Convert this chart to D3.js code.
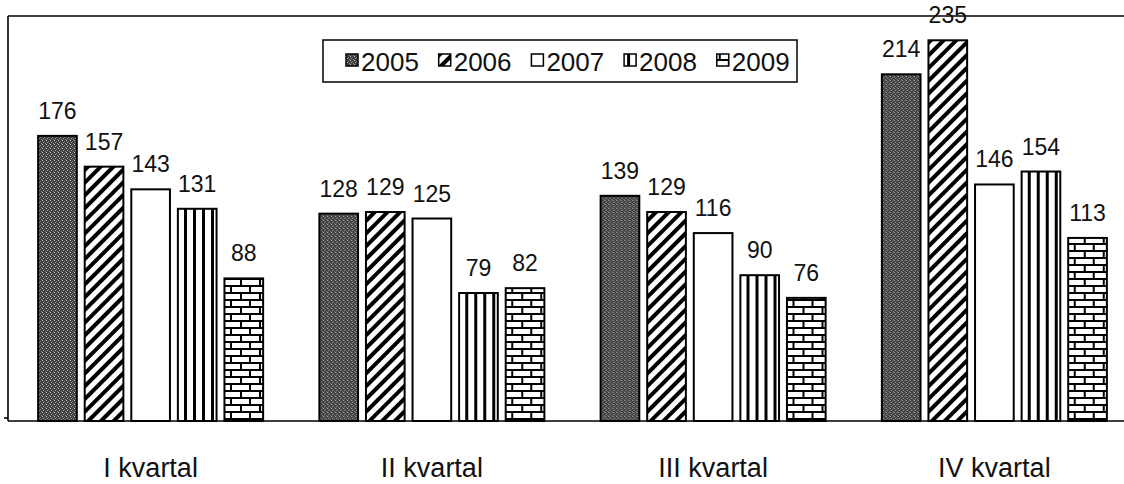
<!DOCTYPE html>
<html lang="en">
  <head>
    <meta charset="utf-8">
    <title>Kvartal chart</title>
    <script src="https://d3js.org/d3.v7.min.js"></script>
    <style>
      body { margin: 0; background: #fff; }
      text { font-family: "Liberation Sans", Arial, sans-serif; fill: #111; }
    </style>
  </head>
<body>
  <svg id="chart" width="1124" height="484"></svg>

  <script type="text/javascript">
    var quarters = ["I kvartal", "II kvartal", "III kvartal", "IV kvartal"],
        years = ["2005", "2006", "2007", "2008", "2009"];

    var v2005 = [176, 128, 139, 214],
        v2006 = [157, 129, 129, 235],
        v2007 = [143, 125, 116, 146],
        v2008 = [131, 79, 90, 154],
        v2009 = [88, 82, 76, 113];

    var yTicks = [0, 250];

    function chart() {
        var series = [v2005, v2006, v2007, v2008, v2009];
        var rows = [];
        years.forEach(function(yr, i) {
            quarters.forEach(function(q, j) {
                rows.push({year: yr, quarter: q, value: series[i][j]});
            });
        });

        var svg = d3.select("#chart");
        var left = 8, top = 16, baseY = 421, right = 1124;

        var y = d3.scaleLinear().domain(d3.extent(yTicks)).range([baseY, top]);
        var x0 = d3.scaleBand().domain(quarters).range([10, 1135]);
        var pad = (x0.bandwidth() - 225) / 2;
        var x1 = d3.scaleBand().domain(years)
            .range([pad, x0.bandwidth() - pad])
            .paddingInner(0.17);

        // fill patterns, one per year
        var defs = svg.append("defs");

        var p0 = defs.append("pattern").attr("id", "p2005")
            .attr("patternUnits", "userSpaceOnUse").attr("width", 4).attr("height", 4);
        p0.append("rect").attr("width", 4).attr("height", 4).attr("fill", "#3e3e3e");
        [[0, 0, "#c4c4c4"], [2, 1, "#7a7a7a"], [1, 2, "#a4a4a4"], [3, 3, "#8a8a8a"]].forEach(function(d) {
            p0.append("rect").attr("x", d[0]).attr("y", d[1])
                .attr("width", 1).attr("height", 1).attr("fill", d[2]);
        });

        var p1 = defs.append("pattern").attr("id", "p2006")
            .attr("patternUnits", "userSpaceOnUse").attr("width", 9).attr("height", 9)
            .attr("patternTransform", "rotate(45)");
        p1.append("rect").attr("width", 9).attr("height", 9).attr("fill", "#fff");
        p1.append("rect").attr("width", 4).attr("height", 9).attr("fill", "#000");

        defs.append("pattern").attr("id", "p2007")
            .attr("patternUnits", "userSpaceOnUse").attr("width", 4).attr("height", 4)
            .append("rect").attr("width", 4).attr("height", 4).attr("fill", "#fff");

        var p3 = defs.append("pattern").attr("id", "p2008")
            .attr("patternUnits", "userSpaceOnUse").attr("width", 9).attr("height", 4);
        p3.append("rect").attr("width", 9).attr("height", 4).attr("fill", "#fff");
        p3.append("rect").attr("x", 3).attr("width", 3).attr("height", 4).attr("fill", "#000");

        var p4 = defs.append("pattern").attr("id", "p2009")
            .attr("patternUnits", "userSpaceOnUse").attr("width", 19).attr("height", 14);
        p4.append("rect").attr("width", 19).attr("height", 14).attr("fill", "#fff");
        p4.append("rect").attr("y", 5).attr("width", 19).attr("height", 2).attr("fill", "#000");
        p4.append("rect").attr("y", 12).attr("width", 19).attr("height", 2).attr("fill", "#000");
        p4.append("rect").attr("x", 2).attr("y", 0).attr("width", 2).attr("height", 7).attr("fill", "#000");
        p4.append("rect").attr("x", 11).attr("y", 7).attr("width", 2).attr("height", 7).attr("fill", "#000");

        // frame
        var frame = svg.append("g").attr("stroke", "#000").attr("stroke-width", 1.6);
        frame.append("line").attr("x1", left).attr("y1", top).attr("x2", right).attr("y2", top);
        frame.append("line").attr("x1", left).attr("y1", top).attr("x2", left).attr("y2", baseY);
        frame.append("line").attr("x1", left - 4).attr("y1", baseY - 3).attr("x2", left).attr("y2", baseY - 3);

        // bars
        var groups = svg.append("g").selectAll("g")
            .data(quarters).join("g")
            .attr("transform", function(d) { return "translate(" + x0(d) + ",0)"; });

        groups.selectAll("rect")
            .data(function(q) { return rows.filter(function(r) { return r.quarter === q; }); })
            .join("rect")
            .attr("x", function(d) { return x1(d.year); })
            .attr("y", function(d) { return y(d.value); })
            .attr("width", x1.bandwidth())
            .attr("height", function(d) { return baseY - y(d.value); })
            .attr("fill", function(d) { return "url(#p" + d.year + ")"; })
            .attr("stroke", "#000")
            .attr("stroke-width", 2);

        groups.selectAll("text.val")
            .data(function(q) { return rows.filter(function(r) { return r.quarter === q; }); })
            .join("text")
            .attr("class", "val")
            .attr("x", function(d) { return x1(d.year) + x1.bandwidth() / 2; })
            .attr("y", function(d) { return y(d.value) - 17; })
            .attr("text-anchor", "middle")
            .attr("font-size", 23)
            .text(function(d) { return d.value; });

        // x axis line and labels
        svg.append("line").attr("x1", left).attr("y1", baseY).attr("x2", right).attr("y2", baseY)
            .attr("stroke", "#000").attr("stroke-width", 1.6);

        svg.append("g").selectAll("text")
            .data(quarters).join("text")
            .attr("x", function(d) { return x0(d) + x0.bandwidth() / 2; })
            .attr("y", 477)
            .attr("text-anchor", "middle")
            .attr("font-size", 27)
            .text(function(d) { return d; });

        // legend
        var lg = svg.append("g").attr("transform", "translate(323,40)");
        lg.append("rect").attr("width", 474).attr("height", 42)
            .attr("fill", "#fff").attr("stroke", "#000").attr("stroke-width", 1.5);
        var item = lg.selectAll("g").data(years).join("g")
            .attr("transform", function(d, i) { return "translate(" + (23 + i * 92.7) + ",0)"; });
        item.append("rect").attr("y", 14).attr("width", 12).attr("height", 12)
            .attr("fill", function(d) { return "url(#p" + d + ")"; })
            .attr("stroke", "#000").attr("stroke-width", 1.5);
        item.append("text").attr("x", 15).attr("y", 31)
            .attr("font-size", 26)
            .text(function(d) { return d; });
    }
    chart();
  </script>
</body>
</html>
